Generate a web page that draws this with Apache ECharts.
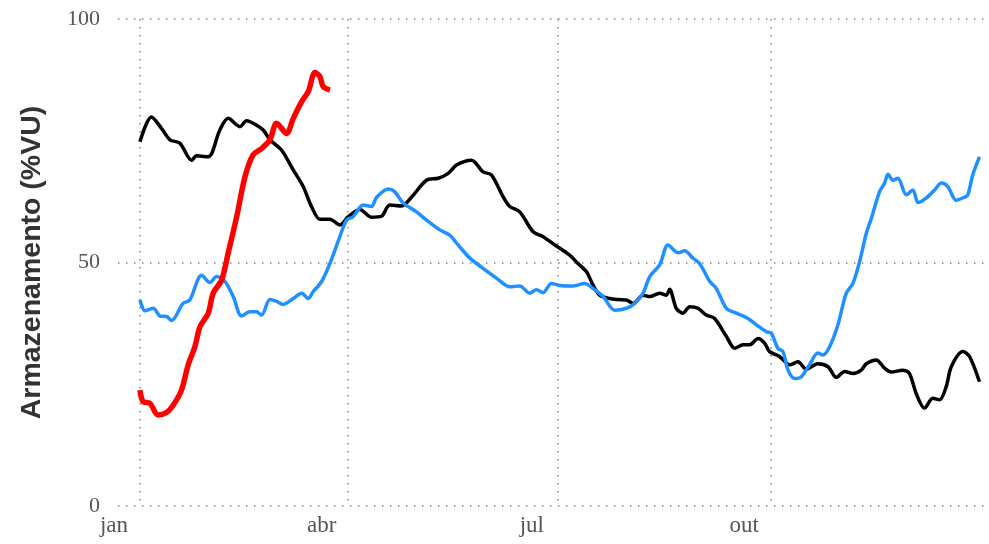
<!DOCTYPE html>
<html>
<head>
<meta charset="utf-8">
<script src="https://cdn.jsdelivr.net/npm/echarts@6/dist/echarts.min.js"></script>
<style>
  html, body { margin: 0; padding: 0; background: #fff; }
  #chart { width: 989px; height: 544px; }
</style>
</head>
<body>
<div id="chart"></div>
<script>
// x = day of year (0 = 1 jan), y = armazenamento (%VU)
const monthTicks = [0, 90, 181, 273];
const monthLabels = ['jan', 'abr', 'jul', 'out'];
const yTicks = [0, 50, 100];

const blackDays = [0, 5, 9.4, 13, 17.3, 22.4, 24.5, 29.6, 34.6, 38.2, 43.3, 46.2, 50.5, 53.4, 56.3, 61.3, 66.4, 70.7, 74.3, 77.9, 82.3, 86.6, 90.2,
  95.2, 100.3, 104.6, 108.2, 113.3, 117.6, 124.1, 129.2, 133.5, 137.1, 143.6, 148.6, 152.2, 157.3, 160.2, 164.5, 170.3, 174.6, 179.7,
  186.1, 189.7, 193.4, 196.2, 199.1, 203.5, 207.1, 210.7, 213.6, 217.9, 220.8, 225.1, 228, 229.4, 232.3, 235.2, 238.1, 241.7, 245.3, 248.9,
  254, 257.6, 261.2, 264.1, 267.7, 270.6, 272.7, 277, 281.4, 285, 288.6, 293.6, 298, 301.6, 305.2, 308.8, 312.4, 314.6, 318.9, 322.5,
  325.4, 330.4, 333.3, 336.2, 339.8, 343.4, 346.3, 349.2, 351.4, 356.4, 359.3, 363.6];
const blackVals = [74.8, 79.9, 77.5, 75.2, 74.5, 71.0, 71.9, 71.7, 77.2, 79.6, 77.9, 79.1, 78.2, 77.2, 75.2, 73.1, 69.0, 65.6, 61.5, 58.9, 58.9, 57.7, 59.4,
  60.9, 59.3, 59.5, 61.8, 61.6, 63.4, 66.9, 67.3, 68.3, 70.0, 71.0, 68.6, 68.0, 63.5, 61.5, 60.4, 56.3, 55.3, 53.6,
  51.5, 49.8, 48.1, 45.4, 43.3, 42.6, 42.4, 42.3, 41.6, 43.3, 43.0, 43.7, 43.3, 44.5, 40.6, 39.6, 40.9, 40.6, 39.2, 38.5,
  34.8, 32.4, 33.1, 33.1, 34.4, 33.4, 31.7, 30.7, 29.0, 29.6, 28.1, 29.2, 28.6, 26.4, 27.6, 27.2, 27.9, 29.2, 30.0, 28.3,
  27.5, 27.9, 27.2, 23.1, 20.1, 22.1, 21.8, 24.5, 28.6, 31.7, 30.7, 25.5];

const blueDays = [0, 2.2, 5.8, 8.7, 11.5, 13.7, 18.7, 21.6, 26.7, 30.3, 33.2, 36.8, 40.4, 44, 47.6, 50.5, 52.7, 56.3, 59.2, 62, 66.4, 70, 72.9, 75,
  78.7, 82.3, 85.8, 89.5, 92.3, 96.7, 100.3, 102.5, 107.5, 110.4, 114, 119.8, 124.1, 129.9, 134.2, 137.8, 142.9, 148.6, 154.4, 160.2,
  164.5, 168.8, 171.7, 174.6, 178.2, 181.8, 187.6, 192.6, 196.2, 200.6, 205.6, 210.7, 214.3, 217.9, 220.8, 225.1, 228.7, 233.1, 235.9,
  239.5, 242.4, 246.8, 249.6, 254, 258.3, 263.3, 267, 271.3, 273.4, 276.3, 278.5, 280.7, 283.5, 286.4, 290, 293.6, 295.8, 298.7, 302.3,
  305.9, 308.8, 311.7, 314.6, 316.8, 320.3, 322.5, 324, 326.1, 328.3, 331.9, 334.8, 337, 340.5, 344.2, 347.1, 349.9, 353.5, 357.1,
  358.6, 360.7, 363.6];
const blueVals = [42.3, 40.1, 40.6, 39.0, 38.9, 38.1, 41.6, 42.3, 47.4, 45.9, 47.1, 46.1, 43.0, 39.0, 39.9, 39.9, 39.2, 42.4, 42.0, 41.4, 42.6, 43.7, 42.6, 44.0,
  46.1, 49.8, 54.3, 58.7, 59.4, 61.8, 61.5, 63.4, 65.1, 64.5, 62.2, 60.4, 58.7, 56.7, 55.6, 53.6, 50.9, 48.8, 46.8, 45.0,
  45.2, 43.7, 44.4, 43.8, 45.7, 45.3, 45.2, 45.7, 44.7, 43.0, 40.2, 40.6, 41.6, 43.7, 47.1, 49.5, 53.6, 52.0, 52.4,
  50.9, 49.8, 46.1, 44.7, 40.6, 39.6, 38.5, 37.2, 35.8, 35.5, 32.4, 31.7, 27.9, 26.2, 26.5, 29.0, 31.4, 31.0, 32.7, 37.2,
  43.7, 45.7, 50.2, 56.0, 59.1, 64.5, 66.3, 68.1, 66.9, 67.3, 63.9, 64.9, 62.3, 63.2, 64.9, 66.3, 65.6, 62.8, 63.4,
  63.9, 68.0, 71.7];

const redDays = [0, 1.4, 4.3, 7.9, 11.5, 14.4, 18, 20.9, 23.8, 26, 29.6, 31.7, 35.4, 38.2, 41.9, 45.5, 49, 52.7, 56.3, 59.2, 63.5, 66.4,
  70, 72.9, 75.8, 77.9, 79.4, 82.3];
const redVals = [23.8, 21.4, 21.1, 18.7, 19.2, 20.7, 23.8, 29.0, 32.7, 36.8, 39.6, 43.7, 46.4, 51.9, 59.4, 67.6, 72.1, 73.4, 75.2, 78.6, 76.5, 79.6,
  83.0, 85.1, 89.0, 88.2, 86.1, 85.4];

function pairs(days, vals) {
  return days.map((d, i) => [d, vals[i]]);
}

const gridLine = { show: true, lineStyle: { color: '#888', width: 1.5, type: [1.5, 6.5] } };
const labelFont = { fontFamily: '"Liberation Serif", serif', fontSize: 22, color: '#555' };

const chart = echarts.init(document.getElementById('chart'));
chart.setOption({
  backgroundColor: '#fff',
  animation: false,
  grid: { left: 118, right: 4, top: 19, bottom: 38 },
  xAxis: {
    type: 'value',
    min: -9.5,
    max: 366,
    axisLine: { show: false },
    axisTick: { show: false, customValues: monthTicks },
    splitLine: gridLine,
    axisLabel: Object.assign({
      customValues: monthTicks,
      margin: 8,
      padding: [0, 52, 0, 0],
      formatter: (v) => monthLabels[monthTicks.indexOf(v)] || ''
    }, labelFont, { fontSize: 23 })
  },
  yAxis: {
    type: 'value',
    min: 0,
    max: 100,
    interval: 50,
    name: 'Armazenamento (%VU)',
    nameLocation: 'middle',
    nameGap: 71,
    nameTextStyle: { fontFamily: '"Liberation Sans", Arial, sans-serif', fontWeight: 'bold', fontSize: 28.5, color: '#333' },
    axisLine: { show: false },
    axisTick: { show: false },
    splitLine: gridLine,
    axisLabel: Object.assign({ margin: 18, formatter: (v) => yTicks.includes(v) ? String(v) : '' }, labelFont)
  },
  series: [
    {
      name: 'preto', type: 'line', data: pairs(blackDays, blackVals), showSymbol: false, smooth: 0.3,
      lineStyle: { color: '#000', width: 3.5 }, z: 2
    },
    {
      name: 'azul', type: 'line', data: pairs(blueDays, blueVals), showSymbol: false, smooth: 0.3,
      lineStyle: { color: '#1e90ff', width: 3.5 }, z: 3
    },
    {
      name: 'vermelho', type: 'line', data: pairs(redDays, redVals), showSymbol: false, smooth: 0.3,
      lineStyle: { color: '#ff0000', width: 5.5 }, z: 4
    }
  ]
});
</script>
</body>
</html>
